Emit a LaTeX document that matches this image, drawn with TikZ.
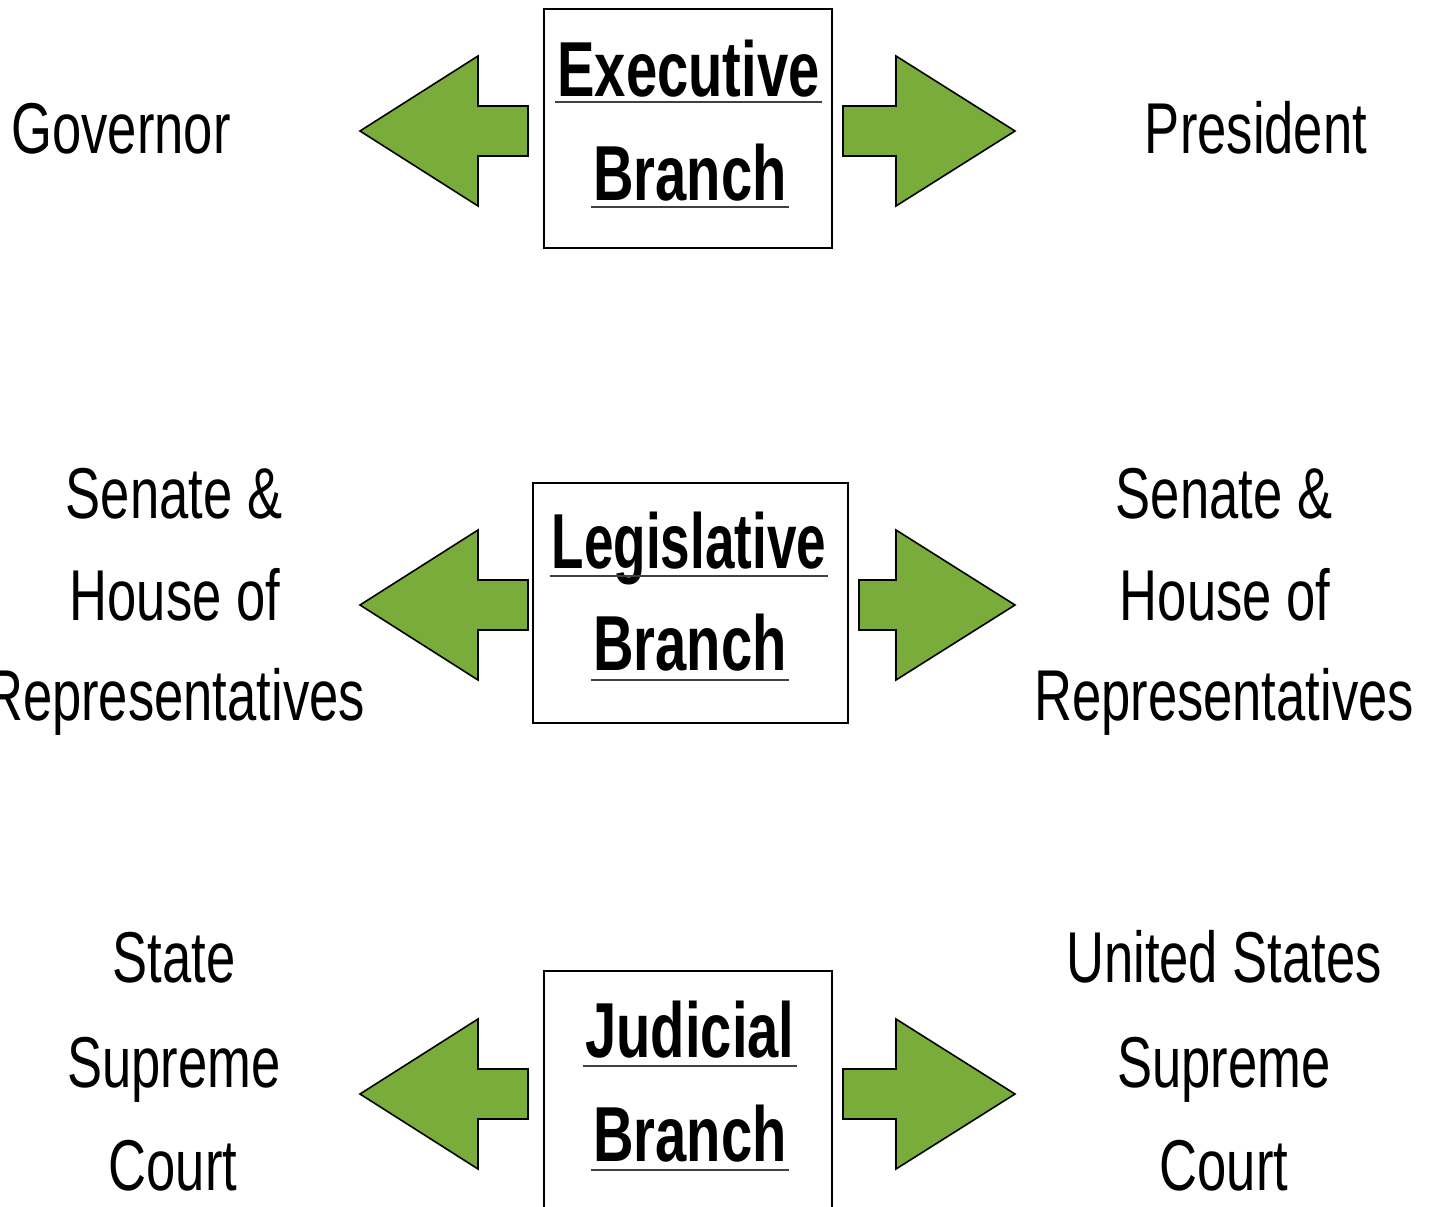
\documentclass[tikz,border=0pt]{standalone}
\usepackage{fontspec}
\usepackage{graphicx}
\setmainfont{Liberation Sans}
\definecolor{arrowgreen}{RGB}{122,172,60}
\newcommand{\sqr}[1]{\scalebox{0.73}[1]{#1}}
\newcommand{\sqb}[2][0.72]{\scalebox{#1}[1]{\bfseries #2}}
\tikzset{
  lbl/.style={inner sep=0pt, anchor=base, font=\fontsize{72}{80}\selectfont},
  ttl/.style={inner sep=0pt, anchor=base, font=\fontsize{78}{86}\selectfont},
  branchbox/.style={draw=black, line width=2pt, fill=white, inner sep=0pt},
  garrow/.style={fill=arrowgreen, draw=black, line width=1.6pt, line join=miter},
  uline/.style={draw=black!75, line width=2pt}
}
\begin{document}
\begin{tikzpicture}[x=1pt,y=-1pt]
\useasboundingbox (0,0) rectangle (1430,1207);

% ---------- Executive ----------
\node[branchbox, minimum width=288pt, minimum height=239pt] (exbox) at (688,128.5) {};
\node[ttl] (ex1) at (688.5,96) {\sqb{Executive}};
\node[ttl] (ex2) at (690,200) {\sqb{Branch}};
\draw[uline] ([xshift=-2pt,yshift=-6pt]ex1.base west) -- ([xshift=2pt,yshift=-6pt]ex1.base east);
\draw[uline] ([xshift=-2pt,yshift=-7pt]ex2.base west) -- ([xshift=2pt,yshift=-7pt]ex2.base east);
\draw[garrow] (360,131) -- (478,56) -- (478,106) -- (528,106) -- (528,156) -- (478,156) -- (478,206) -- cycle;
\draw[garrow] (843,106) -- (896,106) -- (896,56) -- (1015,131) -- (896,206) -- (896,156) -- (843,156) -- cycle;
\node[lbl] (gov) at (121,153) {\sqr{Governor}};
\node[lbl] (pres) at (1256,153) {\sqr{President}};

% ---------- Legislative ----------
\node[branchbox, minimum width=315pt, minimum height=240pt] (lgbox) at (690.5,603) {};
\node[ttl] (lg1) at (689,568) {\sqb[0.68]{Legislative}};
\node[ttl] (lg2) at (690,670) {\sqb{Branch}};
\draw[uline] ([xshift=-2pt,yshift=-8pt]lg1.base west) -- ([xshift=2pt,yshift=-8pt]lg1.base east);
\draw[uline] ([xshift=-2pt,yshift=-10pt]lg2.base west) -- ([xshift=2pt,yshift=-10pt]lg2.base east);
\draw[garrow] (360,605) -- (478,530) -- (478,580) -- (528,580) -- (528,630) -- (478,630) -- (478,680) -- cycle;
\draw[garrow] (859,580) -- (896,580) -- (896,530) -- (1015,605) -- (896,680) -- (896,630) -- (859,630) -- cycle;
\node[lbl] (ls1) at (174,518) {\sqr{Senate \&}};
\node[lbl] (ls2) at (175,620) {\sqr{House of}};
\node[lbl] (ls3) at (175,720) {\sqr{Representatives}};
\node[lbl] (rs1) at (1224,518) {\sqr{Senate \&}};
\node[lbl] (rs2) at (1225,620) {\sqr{House of}};
\node[lbl] (rs3) at (1224,720) {\sqr{Representatives}};

% ---------- Judicial ----------
\node[branchbox, minimum width=288pt, minimum height=242pt] (jdbox) at (688,1092) {};
\node[ttl] (jd1) at (690,1057) {\sqb{Judicial}};
\node[ttl] (jd2) at (690,1161) {\sqb{Branch}};
\draw[uline] ([xshift=-2pt,yshift=-9pt]jd1.base west) -- ([xshift=2pt,yshift=-9pt]jd1.base east);
\draw[uline] ([xshift=-2pt,yshift=-9pt]jd2.base west) -- ([xshift=2pt,yshift=-9pt]jd2.base east);
\draw[garrow] (360,1094) -- (478,1019) -- (478,1069) -- (528,1069) -- (528,1119) -- (478,1119) -- (478,1169) -- cycle;
\draw[garrow] (843,1069) -- (896,1069) -- (896,1019) -- (1015,1094) -- (896,1169) -- (896,1119) -- (843,1119) -- cycle;
\node[lbl] (st1) at (174,982) {\sqr{State}};
\node[lbl] (st2) at (174,1087) {\sqr{Supreme}};
\node[lbl] (st3) at (173,1190) {\sqr{Court}};
\node[lbl] (us1) at (1224,982) {\sqr{United States}};
\node[lbl] (us2) at (1224,1087) {\sqr{Supreme}};
\node[lbl] (us3) at (1224,1190) {\sqr{Court}};
\end{tikzpicture}
\end{document}
